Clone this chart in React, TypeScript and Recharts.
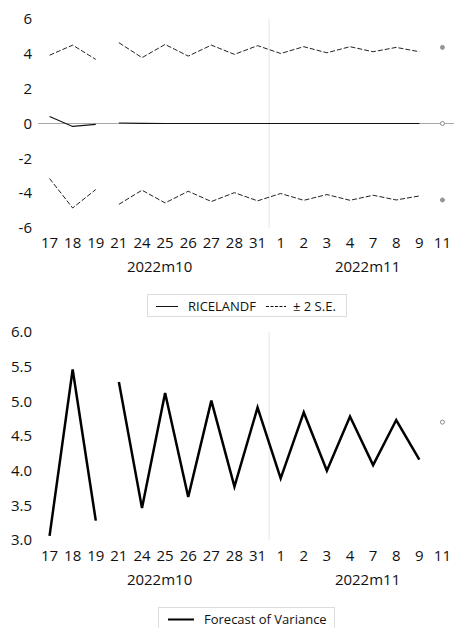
import React from "react";
import { LineChart, Line, XAxis, YAxis, ReferenceLine } from "recharts";

// categories (trading days) and the month each belongs to
const days = ["17", "18", "19", "21", "24", "25", "26", "27", "28", "31", "1", "2", "3", "4", "7", "8", "9", "11"];
const monthOfDay = [0, 0, 0, 0, 0, 0, 0, 0, 0, 0, 1, 1, 1, 1, 1, 1, 1, 1];
const monthNames = ["2022m10", "2022m11"];

// top panel: forecast with +/- 2 S.E. band (last value = forecast dot at 11)
const ricelandf = [0.4, -0.17, -0.05, 0.03, 0.01, 0, 0, 0, 0, 0, 0, 0, 0, 0, 0, 0, 0, 0];
const upperSE = [3.92, 4.5, 3.68, 4.64, 3.78, 4.54, 3.87, 4.5, 3.97, 4.47, 4.02, 4.41, 4.06, 4.41, 4.12, 4.37, 4.12, 4.37];
const lowerSE = [-3.16, -4.85, -3.79, -4.64, -3.83, -4.56, -3.89, -4.48, -3.97, -4.44, -4.02, -4.41, -4.08, -4.41, -4.12, -4.39, -4.16, -4.39];

// bottom panel: forecast of variance
const variance = [3.06, 5.46, 3.28, 5.28, 3.46, 5.12, 3.62, 5.01, 3.77, 4.91, 3.89, 4.84, 4.0, 4.78, 4.08, 4.73, 4.16, 4.7];

const topTicks = [-6, -4, -2, 0, 2, 4, 6];
const bottomTicks = [3, 3.5, 4, 4.5, 5, 5.5, 6];

const W = 454;
const YW = 38;
const BAND = (W - YW) / days.length;
const FONT = "'Open Sans', sans-serif";
const GAP_AFTER = 2; // no line between 19 and 21
const LAST = days.length - 1;

// split a series into: segment before the gap, segment after, and the lone last point
const split = (vals: number[], key: string) =>
  vals.map((v, i) => ({
    [key + "A"]: i <= GAP_AFTER ? v : null,
    [key + "B"]: i > GAP_AFTER && i < LAST ? v : null,
    [key + "D"]: i === LAST ? v : null,
  }));

const topData = days.map((d, i) => ({
  day: d,
  ...split(ricelandf, "mid")[i],
  ...split(upperSE, "up")[i],
  ...split(lowerSE, "lo")[i],
}));

const bottomData = days.map((d, i) => ({
  day: d,
  ...split(variance, "v")[i],
}));

function DayTick(props: any) {
  const { x, y, payload } = props;
  const i = payload.index;
  const m = monthOfDay[i];
  const first = monthOfDay.indexOf(m) === i;
  const n = monthOfDay.filter((v) => v === m).length;
  return (
    <g>
      <text x={x} y={y} dy="0.71em" textAnchor="middle" fontFamily={FONT} fontSize={15} fill="#111">
        {payload.value}
      </text>
      {first && (
        <text x={x + ((n - 1) / 2) * BAND + 6} y={y + 24} dy="0.71em" textAnchor="middle" fontFamily={FONT} fontSize={15} fill="#111">
          {monthNames[m]}
        </text>
      )}
    </g>
  );
}

const yTickStyle = { fontFamily: FONT, fontSize: 15, fill: "#111" };
const grayDot = { r: 2, fill: "#959595", stroke: "#959595", strokeWidth: 1 };
const hollowDot = { r: 2, fill: "#fff", stroke: "#8a8a8a", strokeWidth: 1 };
const dash = "5 2";

export default function App() {
  return (
    <div style={{ position: "absolute", left: 0, top: 0, width: W, height: 628, background: "#fff", fontFamily: FONT }}>
      <div style={{ position: "absolute", left: 0, top: 0 }}>
        <LineChart width={W} height={280} data={topData} margin={{ top: 19, right: 0, bottom: 0, left: 0 }}>
          <XAxis dataKey="day" scale="band" interval={0} axisLine={false} tickLine={false} tickSize={0} tickMargin={9} height={52} tick={<DayTick />} />
          <YAxis domain={[-6, 6]} ticks={topTicks} interval={0} width={YW} axisLine={false} tickLine={false} tickSize={0} tickMargin={6} tick={yTickStyle} />
          <ReferenceLine y={0} stroke="#a8a8a8" strokeWidth={1} />
          <ReferenceLine x="1" position="start" stroke="#e4e4e4" strokeWidth={1} />
          <Line dataKey="upA" stroke="#222" strokeWidth={1} strokeDasharray={dash} dot={false} isAnimationActive={false} />
          <Line dataKey="upB" stroke="#222" strokeWidth={1} strokeDasharray={dash} dot={false} isAnimationActive={false} />
          <Line dataKey="loA" stroke="#222" strokeWidth={1} strokeDasharray={dash} dot={false} isAnimationActive={false} />
          <Line dataKey="loB" stroke="#222" strokeWidth={1} strokeDasharray={dash} dot={false} isAnimationActive={false} />
          <Line dataKey="midA" stroke="#111" strokeWidth={1.2} dot={false} isAnimationActive={false} />
          <Line dataKey="midB" stroke="#111" strokeWidth={1.2} dot={false} isAnimationActive={false} />
          <Line dataKey="upD" stroke="none" dot={grayDot} isAnimationActive={false} />
          <Line dataKey="loD" stroke="none" dot={grayDot} isAnimationActive={false} />
          <Line dataKey="midD" stroke="none" dot={hollowDot} isAnimationActive={false} />
        </LineChart>
      </div>
      <div style={{ position: "absolute", left: 147, top: 294, width: 200, height: 23, boxSizing: "border-box", border: "1px solid #dcdcdc", fontSize: 13, color: "#111" }}>
        <svg width={200} height={21} style={{ position: "absolute", left: 0, top: 0 }}>
          <line x1={8} x2={30} y1={11.5} y2={11.5} stroke="#111" strokeWidth={1} />
          <line x1={118} x2={138} y1={11.5} y2={11.5} stroke="#111" strokeWidth={1} strokeDasharray="3 1.5" />
        </svg>
        <span style={{ position: "absolute", left: 40, top: 2 }}>RICELANDF</span>
        <span style={{ position: "absolute", left: 145, top: 2 }}>± 2 S.E.</span>
      </div>

      <div style={{ position: "absolute", left: 0, top: 300 }}>
        <LineChart width={W} height={292} data={bottomData} margin={{ top: 32, right: 0, bottom: 0, left: 0 }}>
          <XAxis dataKey="day" scale="band" interval={0} axisLine={false} tickLine={false} tickSize={0} tickMargin={10} height={52} tick={<DayTick />} />
          <YAxis domain={[3, 6]} ticks={bottomTicks} interval={0} width={YW} axisLine={false} tickLine={false} tickSize={0} tickMargin={6} tick={yTickStyle} tickFormatter={(v: number) => v.toFixed(1)} />
          <ReferenceLine x="1" position="start" stroke="#e4e4e4" strokeWidth={1} />
          <Line dataKey="vA" stroke="#000" strokeWidth={2.5} dot={false} isAnimationActive={false} />
          <Line dataKey="vB" stroke="#000" strokeWidth={2.5} dot={false} isAnimationActive={false} />
          <Line dataKey="vD" stroke="none" dot={{ r: 2, fill: "#fff", stroke: "#8a8a8a", strokeWidth: 1 }} isAnimationActive={false} />
        </LineChart>
      </div>
      <div style={{ position: "absolute", left: 158, top: 607, width: 177, height: 24, boxSizing: "border-box", border: "1px solid #dcdcdc", fontSize: 13, color: "#111" }}>
        <svg width={177} height={22} style={{ position: "absolute", left: 0, top: 0 }}>
          <line x1={9} x2={35} y1={11.5} y2={11.5} stroke="#000" strokeWidth={2} />
        </svg>
        <span style={{ position: "absolute", left: 45, top: 2 }}>Forecast of Variance</span>
      </div>
    </div>
  );
}
